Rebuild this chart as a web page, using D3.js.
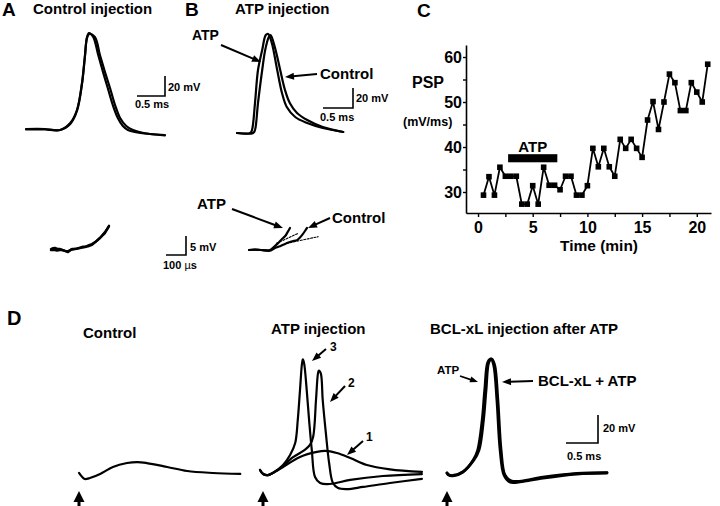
<!DOCTYPE html>
<html><head><meta charset="utf-8">
<script src="https://cdn.jsdelivr.net/npm/d3@7"></script>
<style>
body{margin:0;background:#fff}
text{font-family:"Liberation Sans",Arial,Helvetica,sans-serif;font-weight:bold;fill:#000}
</style>
</head><body>
<svg id="c" width="720" height="506" xmlns="http://www.w3.org/2000/svg"></svg>
<script>
// ---------- Panel C data (PSP slope vs time) ----------
const cTime  = [0.5,1,1.5,2,2.5,3,3.5,4,4.5,5,5.5,6,6.5,7,7.5,8,8.5,9,9.5,10,10.5,11,11.5,12,12.5,13,13.5,14,14.5,15,15.5,16,16.5,17,17.5,18,18.5,19,19.5,20,20.5,21];
const cValue = [29.3,33.4,29.3,35.5,33.5,33.5,33.5,27.3,27.3,31.4,27.3,35.5,31.5,31.5,30.5,33.5,33.5,29.3,29.3,31.4,39.7,35.6,39.7,35.6,33.5,41.7,39.7,41.7,39.7,37.7,46.0,50.1,43.9,50.0,56.2,54.3,48.1,48.1,54.3,52.2,50.0,58.4];
const cXTicks = [0,5,10,15,20];
const cXMinor = [2.5,7.5,12.5,17.5];
const cYTicks = [30,40,50,60];
const cYMinor = [35,45,55];
const atpPeriod = [2.75, 7.25];   // minutes
const atpBarLevel = [36.6, 38.4]; // mV/ms

// ---------- Traces: [time, mV]  (A/B/D time in ms; low A/B in µs) ----------
const traceA1 = [[0,1],[0.2,1.2],[0.34,1],[0.61,0],[0.79,7],[0.91,20],[1.0,47],[1.05,73],[1.09,93],[1.125,97],[1.2,93],[1.29,75],[1.375,58],[1.46,42],[1.55,25],[1.64,12],[1.73,4],[1.82,0],[2.04,-3],[2.48,-5]];
const traceA2 = [[0,0.5],[0.2,0.6],[0.34,0.5],[0.61,0],[0.79,6],[0.91,19],[1.0,46],[1.05,72],[1.09,92],[1.13,96],[1.23,93],[1.32,75],[1.41,58],[1.5,42],[1.59,25],[1.68,12],[1.79,4],[1.91,0],[2.1,-3],[2.48,-5.5]];
const traceB_atp  = [[0,0],[0.22,0],[0.25,3],[0.3,30],[0.35,63],[0.42,83],[0.48,98],[0.52,99],[0.58,90],[0.67,63],[0.75,40],[0.83,26],[0.97,16],[1.17,10],[1.43,5],[1.77,1]];
const traceB_ctrl = [[0,0],[0.27,0],[0.3,3],[0.35,30],[0.42,63],[0.47,83],[0.53,96],[0.56,98],[0.63,86],[0.72,63],[0.8,43],[0.88,30],[1.0,20],[1.17,13],[1.43,6],[1.77,1]];
const traceAlow1 = [[0,0],[10,0.2],[20,0.3],[35,0],[45,0],[60,-0.3],[75,-0.6],[85,-0.8],[100,-0.2],[120,0],[150,0.3],[170,0.5],[190,1.0],[205,1.3],[225,2.0],[245,2.9],[270,4.2],[290,6.1]];
const traceAlow2 = [[0,-0.3],[15,-0.2],[30,-0.4],[50,-0.2],[70,-0.5],[85,-0.6],[105,0],[130,0.1],[160,0.6],[185,0.7],[205,1.1],[230,2.2],[250,3.2],[272,4.6],[288,5.8]];
const traceBlow_atp  = [[0,0],[30,0.1],[60,0],[105,0],[125,0.8],[145,1.8],[165,2.9],[180,3.6],[193,4.7],[205,5.8]];
const traceBlow_ctrl = [[0,0],[30,0.1],[60,0],[105,-0.2],[130,0.5],[155,1.0],[180,1.6],[205,2.1],[225,2.4],[240,2.6],[255,3.3],[265,3.9],[280,5.0],[290,5.8]];
const tangentBlow_atp  = [[138,1.75],[246,4.4]];
const tangentBlow_ctrl = [[188,1.75],[346,3.5]];
const traceD_ctrl = [[0,-0.7],[0.05,-3.6],[0.09,-5],[0.17,-4.3],[0.33,-1.4],[0.53,3.6],[0.75,6.4],[0.91,7.1],[1.06,6.4],[1.38,3.6],[1.69,0.7],[2.09,-0.7],[2.52,-1.4]];
const traceD_1 = [[0,0],[0.05,-2.9],[0.125,-3.6],[0.2,-2.1],[0.36,2.1],[0.625,9.3],[0.89,12.9],[1.02,13.6],[1.2,12.1],[1.41,8.6],[1.67,3.6],[2.03,0.5],[2.53,-1.4]];
const traceD_2 = [[0,0],[0.05,-2.9],[0.125,-3.6],[0.2,-2.1],[0.36,2.6],[0.5,8.6],[0.7,14.3],[0.78,17.9],[0.83,23.6],[0.875,50],[0.906,69],[0.92,71],[0.95,69],[0.98,50],[1.03,26],[1.08,5],[1.14,-9.3],[1.22,-12.9],[1.36,-13.6],[1.61,-12.1],[2.03,-9.3],[2.53,-6.4]];
const traceD_3 = [[0,0],[0.05,-2.9],[0.125,-3.6],[0.2,-2.1],[0.36,3.6],[0.47,10.7],[0.55,19.3],[0.59,35.7],[0.625,57],[0.656,76],[0.67,79],[0.69,76],[0.73,57],[0.77,34],[0.81,14],[0.86,-5],[0.94,-9.3],[1.09,-10],[1.41,-7.1],[1.92,-4.3],[2.53,-2.9]];
const traceD_bclAtp = [[0,0],[0.02,-1.4],[0.09,-2.1],[0.25,0.7],[0.41,9.3],[0.48,16.4],[0.55,37.9],[0.59,59.3],[0.64,79.3],[0.69,81.4],[0.73,77],[0.78,52],[0.83,16.4],[0.89,-1.4],[0.98,-6.4],[1.14,-6.4],[1.5,-3.6],[2.03,-0.7],[2.5,0]];
const traceD_bcl    = [[0,0],[0.02,-1.0],[0.09,-1.8],[0.25,1.0],[0.42,9.3],[0.5,16.4],[0.57,37.9],[0.61,59.3],[0.655,79.3],[0.7,81.4],[0.745,77],[0.795,52],[0.845,16.4],[0.905,-1.4],[1.0,-5.6],[1.16,-5.8],[1.5,-3.0],[2.03,-0.3],[2.5,0.3]];

// ---------- drawing ----------
const svg = d3.select('#c');

function txt(x, y, s, size, anchor) {
  return svg.append('text').attr('x', x).attr('y', y).attr('font-size', size)
    .attr('text-anchor', anchor || 'start').text(s);
}
function arrow(x1, y1, x2, y2, o) {
  o = o || {};
  const hl = o.hl || 9, hw = o.hw || 7, sw = o.sw || 2;
  const dx = x2 - x1, dy = y2 - y1, L = Math.hypot(dx, dy), ux = dx / L, uy = dy / L;
  const bx = x2 - ux * hl, by = y2 - uy * hl;
  svg.append('line').attr('x1', x1).attr('y1', y1).attr('x2', bx + ux).attr('y2', by + uy)
    .attr('stroke', '#000').attr('stroke-width', sw);
  svg.append('path').attr('d', `M${x2},${y2}L${bx - uy * hw / 2},${by + ux * hw / 2}L${bx + uy * hw / 2},${by - ux * hw / 2}Z`)
    .attr('fill', '#000');
}
function panel(t0, t1, x0, x1, v0, v1, y0, y1) {
  return { x: d3.scaleLinear().domain([t0, t1]).range([x0, x1]),
           y: d3.scaleLinear().domain([v0, v1]).range([y0, y1]) };
}
function trace(p, data, o) {
  o = o || {};
  const line = d3.line().x(d => p.x(d[0])).y(d => p.y(d[1]))
    .curve(o.linear ? d3.curveLinear : d3.curveCatmullRom.alpha(0.5));
  svg.append('path').attr('d', line(data)).attr('fill', 'none').attr('stroke', '#000')
    .attr('stroke-width', o.sw || 2).attr('stroke-linejoin', 'round').attr('stroke-linecap', 'round')
    .attr('stroke-dasharray', o.dash || null);
}
function scaleBar(p, cx, cy, tLen, vLen) {
  const w = p.x(tLen) - p.x(0), h = p.y(0) - p.y(vLen);
  svg.append('path').attr('d', `M${cx - w},${cy}H${cx}V${cy - h}`)
    .attr('fill', 'none').attr('stroke', '#000').attr('stroke-width', 1.6);
}

// Panel scales (time, voltage) fitted to the scale bars
const pA    = panel(0, 1, 26, 82, 0, 20, 130, 110);
const pB    = panel(0, 1, 237, 297, 0, 20, 133, 113);
const pAlow = panel(0, 100, 51, 71, 0, 5, 249, 230);
const pBlow = panel(0, 100, 249, 269, 0, 5, 250, 231);
const pD1   = panel(0, 0.5, 79, 111, 0, 20, 472, 444);
const pD2   = panel(0, 0.5, 260, 292, 0, 20, 470, 442);
const pD3   = panel(0, 0.5, 447, 479, 0, 20, 473, 445);

// ----- Panel A -----
txt(2, 16, 'A', 19);
txt(33, 14, 'Control injection', 15);
trace(pA, traceA1, { sw: 2.2 });
trace(pA, traceA2, { sw: 2.2 });
scaleBar(pA, 165, 96, 0.5, 20);
txt(168, 91, '20 mV', 11);
txt(152, 108, '0.5 ms', 11, 'middle');
trace(pAlow, traceAlow1, { sw: 2.4, linear: true });
trace(pAlow, traceAlow2, { sw: 2.4, linear: true });
scaleBar(pAlow, 186, 255, 100, 5);
txt(190, 251, '5 mV', 11);
svg.append('text').attr('x', 163).attr('y', 269).attr('font-size', 11)
  .call(t => { t.append('tspan').text('100 '); t.append('tspan').attr('font-weight', 'normal').text('µ'); t.append('tspan').text('s'); });

// ----- Panel B -----
txt(185, 16, 'B', 19);
txt(235, 14, 'ATP injection', 15);
trace(pB, traceB_ctrl, { sw: 2.2 });
trace(pB, traceB_atp, { sw: 2.2 });
txt(192, 40, 'ATP', 14);
arrow(221, 45, 261, 62);
txt(320, 79, 'Control', 15);
arrow(317, 74, 285, 77);
scaleBar(pB, 353, 108, 0.5, 20);
txt(356, 102, '20 mV', 11);
txt(320, 121, '0.5 ms', 11);
trace(pBlow, tangentBlow_atp, { sw: 1.1, dash: '2,1.5', linear: true });
trace(pBlow, tangentBlow_ctrl, { sw: 1.1, dash: '2,1.5', linear: true });
trace(pBlow, traceBlow_ctrl, { sw: 2.2 });
trace(pBlow, traceBlow_atp, { sw: 2.2 });
txt(197, 209, 'ATP', 15);
arrow(232, 209, 283, 228);
txt(332, 223, 'Control', 15);
arrow(330, 218, 308, 228);

// ----- Panel C -----
txt(417, 17, 'C', 19);
const cx = d3.scaleLinear().domain([-1.1, 21.3]).range([466, 711]);
const cy = d3.scaleLinear().domain([25.33, 62.67]).range([213, 45]);
const gy = svg.append('g').attr('transform', `translate(${cx(-1.1)},0)`)
  .call(d3.axisLeft(cy).tickValues(cYTicks.concat(cYMinor)).tickSizeInner(3).tickSizeOuter(0).tickPadding(1)
    .tickFormat(d => cYTicks.includes(d) ? d : ''));
const gx = svg.append('g').attr('transform', `translate(0,${cy(25.33)})`)
  .call(d3.axisBottom(cx).tickValues(cXTicks.concat(cXMinor)).tickSizeInner(4).tickSizeOuter(0).tickPadding(5)
    .tickFormat(d => cXTicks.includes(d) ? d : ''));
[gy, gx].forEach(g => {
  g.selectAll('path.domain').attr('stroke', '#000').attr('stroke-width', 1.6);
  g.selectAll('.tick line').attr('stroke', '#000').attr('stroke-width', 1.4);
  g.selectAll('.tick text').attr('font-size', 16).attr('font-family', '"Liberation Sans",Arial,sans-serif')
    .attr('font-weight', 'bold').attr('fill', '#000');
});
txt(412, 88, 'PSP', 16);
txt(403, 126, '(mV/ms)', 12.5);
txt(599, 251, 'Time (min)', 15.5, 'middle');
svg.append('rect').attr('x', cx(atpPeriod[0])).attr('width', cx(atpPeriod[1]) - cx(atpPeriod[0]))
  .attr('y', cy(atpBarLevel[1])).attr('height', cy(atpBarLevel[0]) - cy(atpBarLevel[1])).attr('fill', '#000');
txt(cx((atpPeriod[0] + atpPeriod[1]) / 2), 152, 'ATP', 15, 'middle');
const cPts = cTime.map((t, i) => [t, cValue[i]]);
svg.append('path').attr('d', d3.line().x(d => cx(d[0])).y(d => cy(d[1]))(cPts))
  .attr('fill', 'none').attr('stroke', '#000').attr('stroke-width', 1.8).attr('stroke-linejoin', 'round');
svg.append('g').selectAll('rect').data(cPts).join('rect')
  .attr('x', d => cx(d[0]) - 2.8).attr('y', d => cy(d[1]) - 2.8).attr('width', 5.6).attr('height', 5.6).attr('fill', '#000');

// ----- Panel D -----
txt(7, 325, 'D', 20);
txt(83, 338, 'Control', 15);
trace(pD1, traceD_ctrl, { sw: 2.2 });
arrow(79, 507, 79, 491, { hl: 11, hw: 11, sw: 3 });

txt(271, 334, 'ATP injection', 15);
trace(pD2, traceD_1, { sw: 2.2 });
trace(pD2, traceD_2, { sw: 2.2 });
trace(pD2, traceD_3, { sw: 2.2 });
arrow(263, 507, 263, 491, { hl: 11, hw: 11, sw: 3 });
txt(330, 351, '3', 12);
arrow(326, 349, 312, 361);
txt(348, 387, '2', 12);
arrow(345, 386, 330, 402);
txt(366, 441, '1', 12);
arrow(363, 441, 347, 455);

txt(430, 334, 'BCL-xL injection after ATP', 15);
trace(pD3, traceD_bcl, { sw: 2.8 });
trace(pD3, traceD_bclAtp, { sw: 2.8 });
arrow(447, 507, 447, 491, { hl: 11, hw: 11, sw: 3 });
txt(437, 374, 'ATP', 11.5);
arrow(460, 376, 478, 382, { hl: 8, hw: 6, sw: 1.8 });
txt(538, 386, 'BCL-xL + ATP', 15);
arrow(533, 381, 502, 382);
scaleBar(pD3, 598, 443, 0.5, 20);
txt(603, 432, '20 mV', 11);
txt(567, 460, '0.5 ms', 11);
</script>
</body></html>
